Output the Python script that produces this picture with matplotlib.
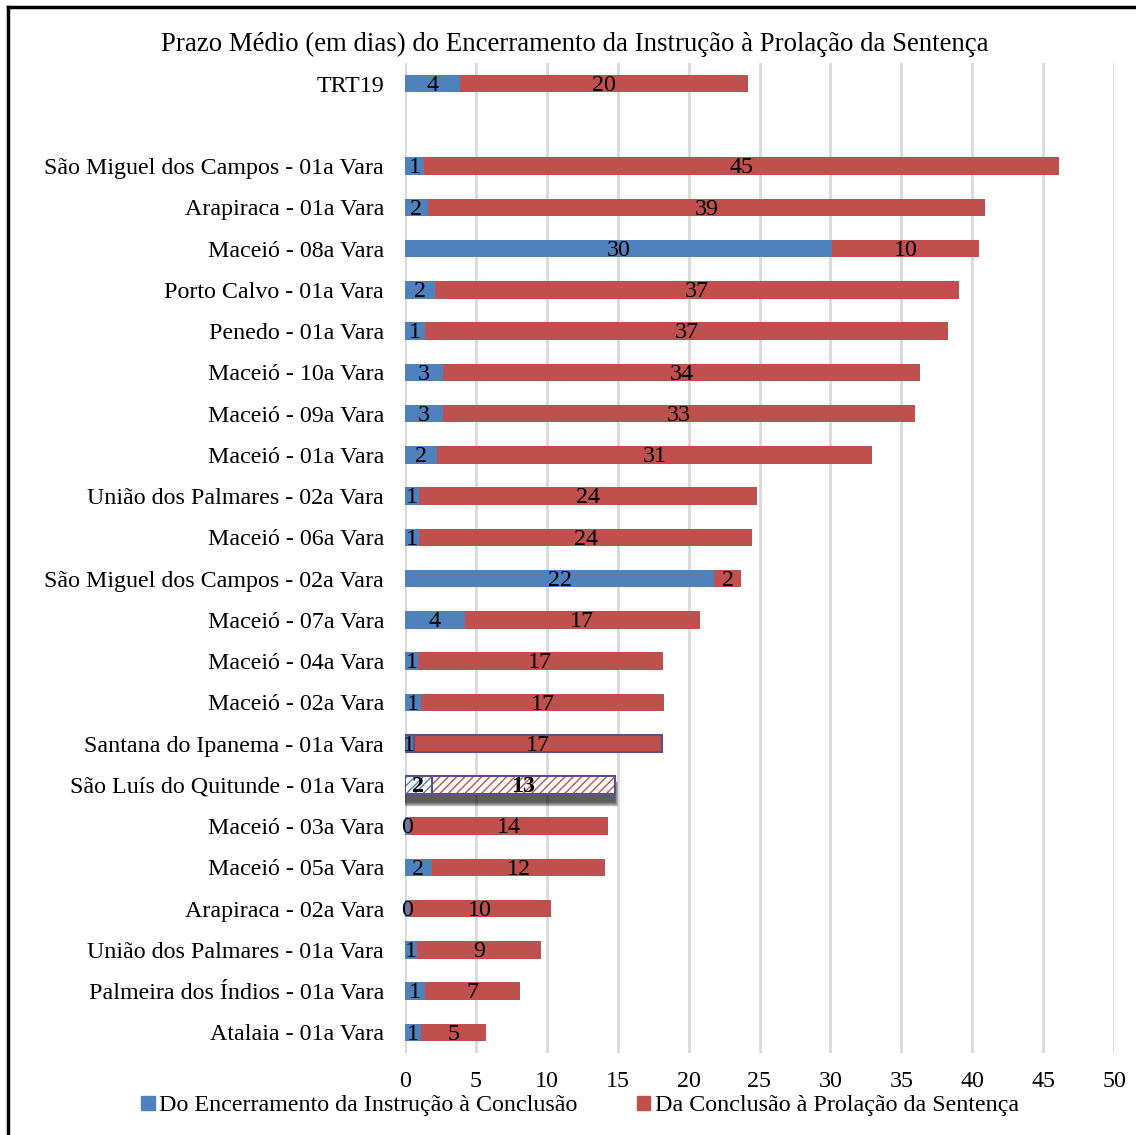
import matplotlib
matplotlib.use("Agg")
import matplotlib.pyplot as plt
from matplotlib.lines import Line2D
from matplotlib.patches import Rectangle
import numpy as np

plt.rcParams['font.family'] = ['Liberation Serif', 'DejaVu Serif']

categories = ["TRT19", "",
              "São Miguel dos Campos - 01a Vara", "Arapiraca - 01a Vara", "Maceió - 08a Vara",
              "Porto Calvo - 01a Vara", "Penedo - 01a Vara", "Maceió - 10a Vara",
              "Maceió - 09a Vara", "Maceió - 01a Vara", "União dos Palmares - 02a Vara",
              "Maceió - 06a Vara", "São Miguel dos Campos - 02a Vara", "Maceió - 07a Vara",
              "Maceió - 04a Vara", "Maceió - 02a Vara", "Santana do Ipanema - 01a Vara",
              "São Luís do Quitunde - 01a Vara", "Maceió - 03a Vara", "Maceió - 05a Vara",
              "Arapiraca - 02a Vara", "União dos Palmares - 01a Vara",
              "Palmeira dos Índios - 01a Vara", "Atalaia - 01a Vara"]
encerramento = [3.9, np.nan, 1.35, 1.6, 30.1, 2.1, 1.4, 2.65, 2.65, 2.25, 1.0, 1.0, 21.8, 4.2,
                0.9, 1.15, 0.6, 1.9, 0.25, 1.9, 0.3, 0.85, 1.4, 1.1]
conclusao = [20.3, np.nan, 44.8, 39.3, 10.4, 37.0, 36.9, 33.7, 33.3, 30.7, 23.8, 23.5, 1.9, 16.6,
             17.3, 17.1, 17.5, 12.9, 14.1, 12.2, 10.0, 8.75, 6.7, 4.6]
label_enc = ["4", "", "1", "2", "30", "2", "1", "3", "3", "2", "1", "1", "22", "4",
             "1", "1", "1", "2", "0", "2", "0", "1", "1", "1"]
label_conc = ["20", "", "45", "39", "10", "37", "37", "34", "33", "31", "24", "24", "2", "17",
              "17", "17", "17", "13", "14", "12", "10", "9", "7", "5"]
series_names = ["Do Encerramento da Instrução à Conclusão", "Da Conclusão à Prolação da Sentença"]
xticks = [0, 5, 10, 15, 20, 25, 30, 35, 40, 45, 50]

BLUE = "#4F81BD"
RED = "#C0504D"
OUTLINE = "#5B4F8F"
fs = 17.3

fig = plt.figure(figsize=(11.36, 11.35), dpi=100)
ax = fig.add_axes([405/1136, 1-1053/1135, (1114-405)/1136, (1053-63)/1135])

y = np.arange(len(categories))
enc = np.array(encerramento, dtype=float)
conc = np.array(conclusao, dtype=float)
h = 0.42
special_outline = categories.index("Santana do Ipanema - 01a Vara")
special_hatch = categories.index("São Luís do Quitunde - 01a Vara")

for i in range(len(categories)):
    if np.isnan(enc[i]):
        continue
    if i == special_hatch:
        # soft blurred shadow below the bar
        tot = enc[i] + conc[i]
        n = 16
        for k in range(n):
            grow = 0.40 - k * 0.025
            ax.add_patch(Rectangle((-grow * 0.6, y[i] - h/2 + 0.2 - grow * 0.2),
                                   tot + grow * 1.2, h + grow * 0.5,
                                   facecolor="black", alpha=0.06, edgecolor="none", zorder=2))
        ax.barh(y[i], tot, height=h, color="white", linewidth=0, zorder=2.5)
        ax.barh(y[i], enc[i], height=h, color="white", edgecolor=BLUE, hatch="////", linewidth=0, zorder=3)
        ax.barh(y[i], conc[i], left=enc[i], height=h, color="white", edgecolor=RED, hatch="////",
                linewidth=0, zorder=3)
        ax.barh(y[i], enc[i], height=h, color="none", edgecolor=OUTLINE, linewidth=1.5, zorder=4)
        ax.barh(y[i], conc[i], left=enc[i], height=h, color="none", edgecolor=OUTLINE, linewidth=1.5, zorder=4)
        weight = "bold"
    else:
        ec = OUTLINE if i == special_outline else "none"
        lw = 1.5 if i == special_outline else 0
        ax.barh(y[i], enc[i], height=h, color=BLUE, edgecolor=ec, linewidth=lw, zorder=3)
        ax.barh(y[i], conc[i], left=enc[i], height=h, color=RED, edgecolor=ec, linewidth=lw, zorder=3)
        weight = "normal"
    ax.text(enc[i]/2, y[i] + 0.04, label_enc[i], ha="center", va="center", fontsize=fs, weight=weight, zorder=5)
    ax.text(enc[i] + conc[i]/2, y[i] + 0.04, label_conc[i], ha="center", va="center", fontsize=fs,
            weight=weight, zorder=5)

ax.set_xlim(0, 50)
ax.set_ylim(len(categories) - 0.5, -0.5)
ax.set_xticks(xticks)
ax.set_xticklabels([str(t) for t in xticks], fontsize=fs)
ax.set_yticks(y)
ax.set_yticklabels(categories, fontsize=fs)
ax.tick_params(axis="both", length=0)
ax.tick_params(axis="y", pad=15)
ax.tick_params(axis="x", pad=13)
for s in ax.spines.values():
    s.set_visible(False)
ax.xaxis.grid(True, color="#D9D9D9", linewidth=2)
ax.set_axisbelow(True)

fig.text(575/1136, 1-44/1135, "Prazo Médio (em dias) do Encerramento da Instrução à Prolação da Sentença",
         ha="center", va="center", fontsize=19.3)

handles = [Rectangle((0, 0), 1, 1, color=BLUE), Rectangle((0, 0), 1, 1, color=RED)]
fig.legend(handles, series_names, loc="center", bbox_to_anchor=(580/1136, 1-1106/1135), ncol=2,
           frameon=False, fontsize=fs, handlelength=0.55, handleheight=0.55, handletextpad=0.2,
           columnspacing=2.45, borderpad=0)

fig.add_artist(Line2D([8/1136, 8/1136], [0, 1-7/1135], color="black", linewidth=2.5))
fig.add_artist(Line2D([8/1136, 1], [1-7/1135, 1-7/1135], color="black", linewidth=2.5))

fig.savefig("out.png", dpi=100, facecolor="white")
